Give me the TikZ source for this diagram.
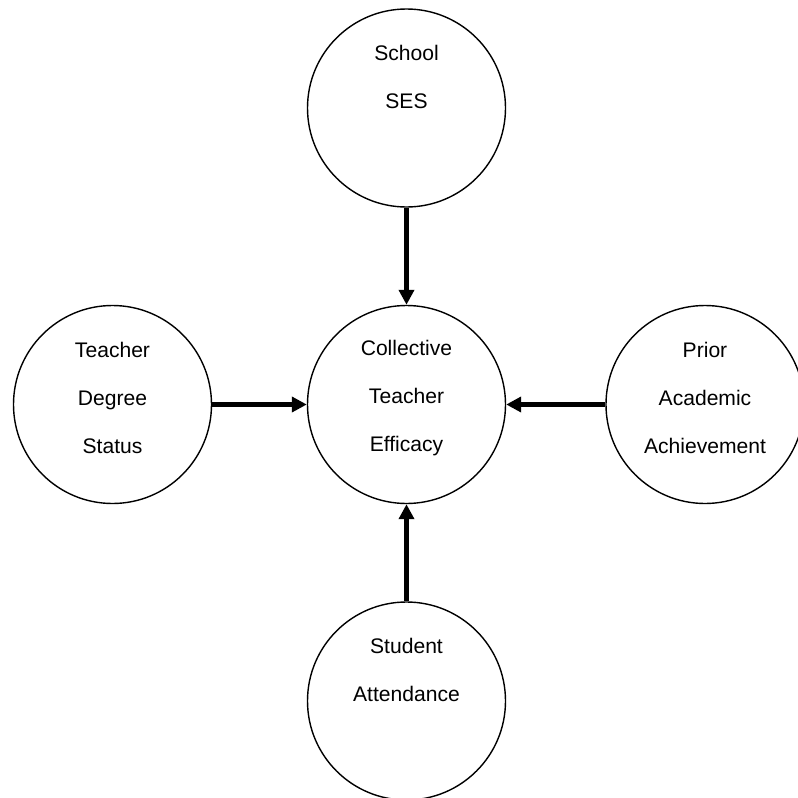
\documentclass[tikz,border=0pt]{standalone}
\usepackage{fontspec}
\setmainfont{Liberation Sans}
\usetikzlibrary{arrows.meta, positioning}
\tikzset{
  bub/.style={circle, draw=black, line width=0.8pt, minimum size=3.96cm,
              inner sep=0pt},
  lbl/.style={align=center, inner sep=0pt,
              font=\fontsize{12}{27.3}\selectfont},
  lbltwo/.style={lbl, yshift=17.9pt},
  lblthree/.style={lbl, yshift=3.6pt},
  flow/.style={-{Triangle[length=0.3cm, width=0.3cm]}, line width=2.4pt}
}
\begin{document}
\begin{tikzpicture}
  \useasboundingbox (0,0) rectangle (15.96,-15.96);
  % circles
  \node[bub] (cte) at (8.13,-8.09) {};
  \node[bub] (ses) at (8.13,-2.16) {};
  \node[bub] (att) at (8.13,-14.02) {};
  \node[bub] (tds) at (2.25,-8.09) {};
  \node[bub] (paa) at (14.10,-8.09) {};
  % texts
  \node[lblthree] (ctet) at (cte.center) {Collective\\Teacher\\Efficacy};
  \node[lbltwo] (sest) at (ses.center) {School\\SES};
  \node[lbltwo] (attt) at (att.center) {Student\\Attendance};
  \node[lblthree] (tdst) at (tds.center) {Teacher\\Degree\\Status};
  \node[lblthree] (paat) at (paa.center) {Prior\\Academic\\Achievement};
  % arrows
  \draw[flow] (ses) -- (cte);
  \draw[flow] (att) -- (cte);
  \draw[flow] (tds) -- (cte);
  \draw[flow] (paa) -- (cte);
\end{tikzpicture}
\end{document}
